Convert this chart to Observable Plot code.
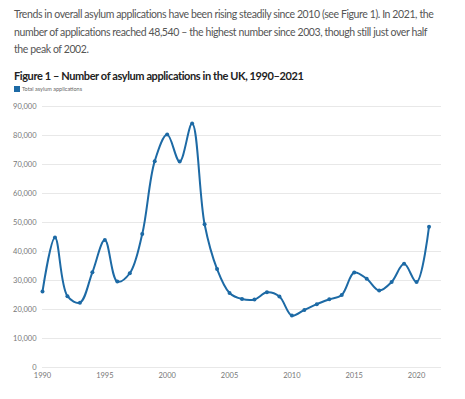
<!DOCTYPE html>
<html>
<head>
<meta charset="utf-8">
<script src="https://cdn.jsdelivr.net/npm/d3@7"></script>
<script src="https://cdn.jsdelivr.net/npm/@observablehq/plot@0.6"></script>
<style>
  html, body { margin: 0; padding: 0; background: #fff; width: 465px; height: 399px; overflow: hidden; }
  body { font-family: Lato, "Open Sans", sans-serif; position: relative; }
  #intro { position: absolute; left: 14px; top: 6px; width: 425px; font-size: 10.5px; letter-spacing: -0.4px; line-height: 17.5px; color: #555; }
  #title { position: absolute; left: 14px; top: 69px; font-size: 11px; letter-spacing: -0.4px; font-weight: bold; color: #222; }
  #legend { position: absolute; left: 14px; top: 86px; font-size: 5.5px; color: #666; display: flex; align-items: center; }
  #legend span.sw { display: inline-block; width: 6px; height: 6px; background: #1d6aa5; margin-right: 2px; }
  #chart { position: absolute; left: 0; top: 97px; }
</style>
</head>
<body>
<div id="intro">Trends in overall asylum applications have been rising steadily since 2010 (see Figure 1). In 2021, the number of applications reached 48,540 – the highest number since 2003, though still just over half the peak of 2002.</div>
<div id="title">Figure 1 – Number of asylum applications in the UK, 1990–2021</div>
<div id="legend"><span class="sw"></span>Total asylum applications</div>
<div id="chart"></div>
<script>
const years = [1990,1991,1992,1993,1994,1995,1996,1997,1998,1999,2000,2001,2002,2003,2004,2005,2006,2007,2008,2009,2010,2011,2012,2013,2014,2015,2016,2017,2018,2019,2020,2021];
const applications = [26205,44840,24605,22370,32830,43965,29640,32500,46015,71160,80315,71025,84130,49405,33960,25710,23610,23430,25930,24485,17915,19865,21845,23505,25035,32733,30603,26547,29504,35737,29456,48540];
const yTicks = [0,10000,20000,30000,40000,50000,60000,70000,80000,90000];
const xTicks = [1990,1995,2000,2005,2010,2015,2020];

const data = years.map((y, i) => ({year: y, value: applications[i]}));
const color = "#1d6aa5";

const chart = Plot.plot({
  width: 465,
  height: 302,
  marginTop: 9,
  marginBottom: 32,
  marginLeft: 42,
  marginRight: 24,
  style: { fontFamily: "Lato, sans-serif", fontSize: "7.5px", color: "#777", background: "#fff" },
  x: { domain: [1990, 2022], ticks: xTicks, tickFormat: d => String(d), tickSize: 0, tickPadding: 5, label: null },
  y: { domain: [0, 90000], ticks: yTicks, tickFormat: d => d3.format(",")(d), tickSize: 0, tickPadding: 6, label: null },
  marks: [
    Plot.ruleY(yTicks, { stroke: "#e8e8e8", strokeWidth: 1 }),
    Plot.line(data, { x: "year", y: "value", curve: "catmull-rom", stroke: color, strokeWidth: 2 }),
    Plot.dot(data, { x: "year", y: "value", r: 2, fill: color, stroke: "none" })
  ]
});
document.getElementById("chart").appendChild(chart);
</script>
</body>
</html>
